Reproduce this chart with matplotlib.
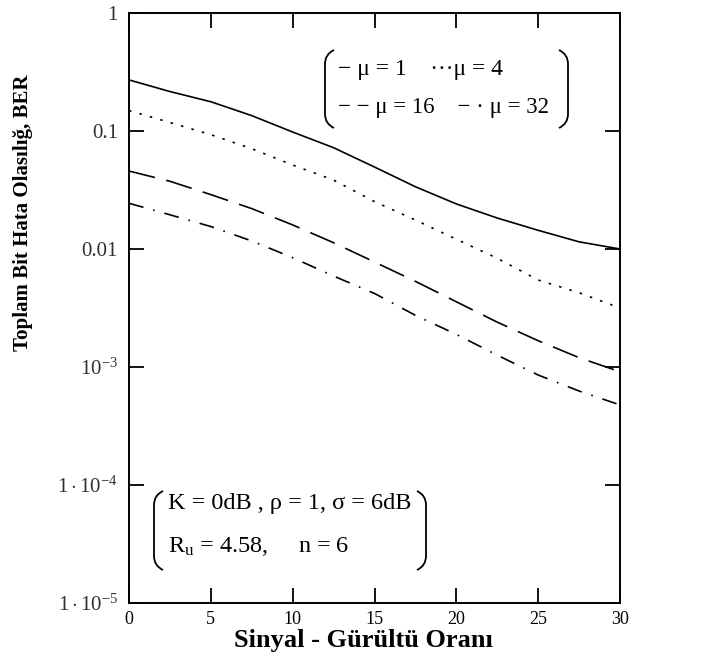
import numpy as np
import matplotlib
matplotlib.use('Agg')
import matplotlib.pyplot as plt
from matplotlib.path import Path
from matplotlib.patches import PathPatch

# Signal-to-noise ratio (x axis)
snr = [0, 2.5, 5, 7.5, 10, 12.5, 15, 17.5, 20, 22.5, 25, 27.5, 30]

# BER curves
ber_mu1 = [0.271, 0.216, 0.177, 0.135, 0.098, 0.0722, 0.0495, 0.0337, 0.0241,
           0.0183, 0.0144, 0.0115, 0.0100]
ber_mu4 = [0.149, 0.118, 0.0931, 0.0708, 0.0515, 0.0384, 0.0252, 0.0176, 0.0121,
           0.00834, 0.00546, 0.00426, 0.00316]
ber_mu16 = [0.0458, 0.0375, 0.0289, 0.0220, 0.0160, 0.0113, 0.00776, 0.00532,
            0.00357, 0.00240, 0.00167, 0.00120, 0.000912]
ber_mu32 = [0.0244, 0.0195, 0.0155, 0.0117, 0.00844, 0.00590, 0.00420, 0.00274,
            0.00189, 0.00126, 0.000855, 0.000626, 0.000477]

x_ticks = [0, 5, 10, 15, 20, 25, 30]
y_ticks = [1e-5, 1e-4, 1e-3, 1e-2, 1e-1, 1]
y_tick_labels = [r'$1\cdot10^{-5}$', r'$1\cdot10^{-4}$', r'$10^{-3}$', '0.01', '0.1', '1']

plt.rcParams['font.family'] = ['Liberation Serif', 'DejaVu Serif']
plt.rcParams['mathtext.fontset'] = 'custom'
plt.rcParams['mathtext.rm'] = 'Liberation Serif'
plt.rcParams['mathtext.it'] = 'Liberation Serif:italic'

W, H = 706, 665
fig = plt.figure(figsize=(W / 100, H / 100), dpi=100)
ax = fig.add_axes([129 / W, 1 - 603 / H, 491 / W, 590 / H])

lw = 1.2
ax.plot(snr, ber_mu1, color='black', lw=lw, linestyle='-')
ax.plot(snr, ber_mu4, color='black', lw=lw, linestyle=(0, (1.5, 5)))
ax.plot(snr, ber_mu16, color='black', lw=lw, linestyle=(0, (16, 7)))
ax.plot(snr, ber_mu32, color='black', lw=lw, linestyle=(0, (9, 6, 1, 6)))

ax.set_yscale('log')
ax.set_xlim(0, 30)
ax.set_ylim(1e-5, 1)
ax.set_xticks(x_ticks)
ax.set_yticks(y_ticks)
ax.set_yticklabels(y_tick_labels)
ax.minorticks_off()

ax.tick_params(axis='both', direction='in', length=11, width=1.3,
               top=True, right=True, color='black')
ax.tick_params(axis='x', labelsize=13, pad=6)
ax.tick_params(axis='y', labelsize=15, pad=8, labelcolor='#303030')
for s in ax.spines.values():
    s.set_linewidth(1.4)

# axis titles
fig.text(363 / W, 1 - 640 / H, 'Sinyal - Gürültü Oranı', ha='center', va='center',
         fontsize=19, fontweight='bold')
fig.text(23 / W, 1 - 213 / H, 'Toplam Bit Hata Olasılığ, BER', ha='center', va='center',
         fontsize=15, fontweight='bold', rotation=90)


def paren(x0, y0, y1, left=True, w=9, r=14):
    # Mathcad style bracket drawn in pixel coordinates
    s = 1 if left else -1
    xe = x0 + s * w
    verts = [(xe, y0), (x0, y0 + r * 0.3), (x0, y0 + r), (x0, y1 - r),
             (x0, y1 - r * 0.3), (xe, y1)]
    codes = [Path.MOVETO, Path.CURVE3, Path.CURVE3, Path.LINETO,
             Path.CURVE3, Path.CURVE3]
    verts = [(vx / W, 1 - vy / H) for vx, vy in verts]
    fig.add_artist(PathPatch(Path(verts, codes), fill=False, lw=1.3,
                             edgecolor='black', transform=fig.transFigure))


# legend block
paren(325, 50, 128, left=True)
paren(568, 50, 128, left=False)
fig.text(338 / W, 1 - 70 / H, '\u2212 \u03bc = 1    \u00b7\u00b7\u00b7\u03bc = 4',
         ha='left', va='center', fontsize=17)
fig.text(338 / W, 1 - 107 / H, '\u2212 \u2212 \u03bc = 16    \u2212 \u00b7 \u03bc = 32',
         ha='left', va='center', fontsize=16.5)

# parameter block
paren(154, 491, 570, left=True)
paren(426, 491, 570, left=False)
fig.text(168 / W, 1 - 504 / H, 'K = 0dB , \u03c1 = 1, \u03c3 = 6dB',
         ha='left', va='center', fontsize=17.5)
fig.text(168 / W, 1 - 547 / H, r'$\mathrm{R_u}$ = 4.58,     n = 6',
         ha='left', va='center', fontsize=17.5)

fig.savefig('out.png', dpi=100, facecolor='white')
